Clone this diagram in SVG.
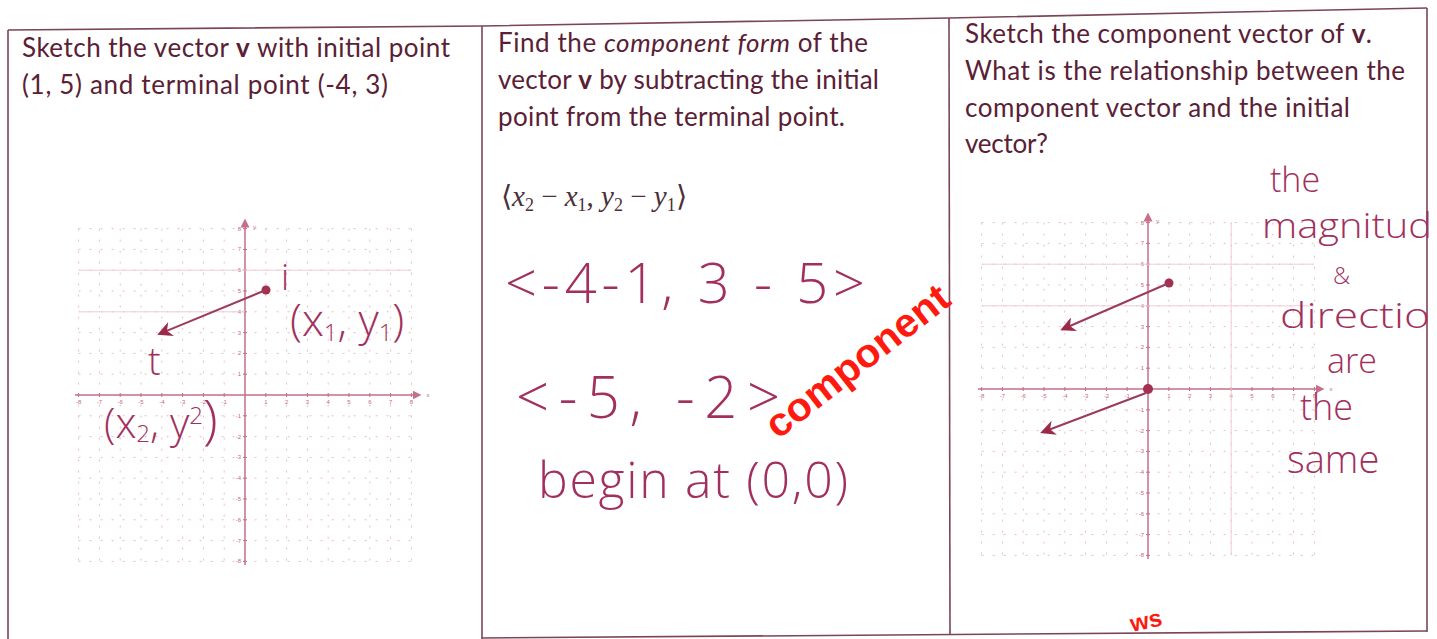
<svg xmlns="http://www.w3.org/2000/svg" xmlns:xlink="http://www.w3.org/1999/xlink" width="1437" height="639" viewBox="0 0 1437 639">
<style>
.frame{fill:none;stroke:#7a4656;stroke-width:1.6}
.prn{font-family:Lato,"Open Sans","Liberation Sans",sans-serif;font-size:26px;fill:#5a2035}
.frm{font-family:"Liberation Serif",serif;font-size:29px;fill:#4a3038}
.hand{font-family:"Open Sans","DejaVu Sans",sans-serif;font-weight:300;fill:#a2305e}
.red{font-family:"Liberation Sans",sans-serif;font-weight:bold;fill:#ff1a10}
.grid{fill:none;stroke:#e8bcc8;stroke-width:1;stroke-dasharray:2 9}
.gl{fill:none;stroke:#efccd6;stroke-width:1}
.axis{fill:none;stroke:#c66f86;stroke-width:1.5}
.tick{fill:none;stroke:#c66f86;stroke-width:1}
.lbl{font-family:"Liberation Sans",sans-serif;font-size:6px;fill:#c06a82}
.vec{fill:none;stroke:#9c3a5e;stroke-width:2}
.dot{fill:#a2304e}
</style>
<defs>
<marker id="ah" viewBox="0 0 10 10" refX="8" refY="5" markerWidth="15" markerHeight="15" orient="auto" markerUnits="userSpaceOnUse">
<path d="M10 5 L0 0 L3 5 L0 10 Z" fill="#9a2a48"/>
</marker>
<marker id="tip" viewBox="0 0 10 10" refX="5" refY="5" markerWidth="6" markerHeight="6" orient="auto"><path d="M0 0 L10 5 L0 10 Z" fill="#c66f86"/></marker>
<g id="grid">
<path class="grid" d="M-166.4 -166.4V166.4M-145.6 -166.4V166.4M-124.8 -166.4V166.4M-104 -166.4V166.4M-83.2 -166.4V166.4M-62.4 -166.4V166.4M-41.6 -166.4V166.4M-20.8 -166.4V166.4M20.8 -166.4V166.4M41.6 -166.4V166.4M62.4 -166.4V166.4M83.2 -166.4V166.4M104 -166.4V166.4M124.8 -166.4V166.4M145.6 -166.4V166.4M166.4 -166.4V166.4M-166.4 -166.4H166.4M-166.4 -145.6H166.4M-166.4 -124.8H166.4M-166.4 -104H166.4M-166.4 -83.2H166.4M-166.4 -62.4H166.4M-166.4 -41.6H166.4M-166.4 -20.8H166.4M-166.4 20.8H166.4M-166.4 41.6H166.4M-166.4 62.4H166.4M-166.4 83.2H166.4M-166.4 104H166.4M-166.4 124.8H166.4M-166.4 145.6H166.4M-166.4 166.4H166.4"/>
<path class="tick" d="M-166.4 -2V2M-145.6 -2V2M-124.8 -2V2M-104 -2V2M-83.2 -2V2M-62.4 -2V2M-41.6 -2V2M-20.8 -2V2M20.8 -2V2M41.6 -2V2M62.4 -2V2M83.2 -2V2M104 -2V2M124.8 -2V2M145.6 -2V2M166.4 -2V2M-2 -166.4H2M-2 -145.6H2M-2 -124.8H2M-2 -104H2M-2 -83.2H2M-2 -62.4H2M-2 -41.6H2M-2 -20.8H2M-2 20.8H2M-2 41.6H2M-2 62.4H2M-2 83.2H2M-2 104H2M-2 124.8H2M-2 145.6H2M-2 166.4H2"/>
<path class="axis" d="M-170 0H172" marker-end="url(#tip)"/>
<path class="axis" d="M0 170V-172" marker-end="url(#tip)"/>
<g class="lbl" text-anchor="middle">
<text x="-166.4" y="9">-8</text><text x="-145.6" y="9">-7</text><text x="-124.8" y="9">-6</text><text x="-104" y="9">-5</text><text x="-83.2" y="9">-4</text><text x="-62.4" y="9">-3</text><text x="-41.6" y="9">-2</text><text x="-20.8" y="9">-1</text><text x="20.8" y="9">1</text><text x="41.6" y="9">2</text><text x="62.4" y="9">3</text><text x="83.2" y="9">4</text><text x="104" y="9">5</text><text x="124.8" y="9">6</text><text x="145.6" y="9">7</text><text x="166.4" y="9">8</text><text x="183" y="2">x</text>
</g>
<g class="lbl" text-anchor="end">
<text x="-4" y="-164.4">8</text><text x="-4" y="-143.6">7</text><text x="-4" y="-122.8">6</text><text x="-4" y="-102">5</text><text x="-4" y="-81.2">4</text><text x="-4" y="-60.4">3</text><text x="-4" y="-39.6">2</text><text x="-4" y="-18.8">1</text><text x="-4" y="22.8">-1</text><text x="-4" y="43.6">-2</text><text x="-4" y="64.4">-3</text><text x="-4" y="85.2">-4</text><text x="-4" y="106">-5</text><text x="-4" y="126.8">-6</text><text x="-4" y="147.6">-7</text><text x="-4" y="168.4">-8</text><text x="11" y="-166">y</text>
</g>
</g>
</defs>

<g id="table">
<polyline class="frame" points="8,30 482,26 949,18 1427,8"/>
<line class="frame" x1="8" y1="30" x2="8" y2="639"/>
<line class="frame" x1="482" y1="26" x2="482" y2="639"/>
<line class="frame" x1="949" y1="18" x2="950" y2="634"/>
<line class="frame" x1="1427" y1="8" x2="1427" y2="632"/>
<line class="frame" x1="482" y1="638" x2="1427" y2="631" stroke-width="2.2"/>
</g>

<g id="cell1">
<text class="prn" x="22" y="57" textLength="428" lengthAdjust="spacing">Sketch the vector <tspan font-weight="bold">v</tspan> with initial point</text>
<text class="prn" x="22" y="94" textLength="366" lengthAdjust="spacing">(1, 5) and terminal point (-4, 3)</text>
<use xlink:href="#grid" x="245" y="395"/>
<path class="gl" d="M79 270.2H411M79 311.8H245"/>
<circle class="dot" cx="266" cy="290" r="4.5"/>
<line class="vec" x1="266" y1="290" x2="160" y2="333.6" marker-end="url(#ah)"/>
<text class="hand" x="281" y="290" font-size="36">i</text>
<text class="hand" x="290" y="336" font-size="44">(x<tspan font-size="24" dy="5">1</tspan><tspan dy="-5">, y</tspan><tspan font-size="24" dy="5">1</tspan><tspan dy="-5">)</tspan></text>
<text class="hand" x="148" y="375" font-size="38">t</text>
<text class="hand" x="104" y="438" font-size="42">(x<tspan font-size="24" dy="4">2</tspan><tspan dy="-4">, y</tspan><tspan font-size="24" dy="-14">2</tspan><tspan dy="14" font-size="54">)</tspan></text>
</g>

<g id="cell2">
<text class="prn" x="498" y="52" textLength="370" lengthAdjust="spacing">Find the <tspan font-style="italic">component form</tspan> of the</text>
<text class="prn" x="498" y="89" textLength="381" lengthAdjust="spacing">vector <tspan font-weight="bold">v</tspan> by subtracting the initial</text>
<text class="prn" x="498" y="126" textLength="347" lengthAdjust="spacing">point from the terminal point.</text>
<text class="frm" x="501" y="206">⟨<tspan font-style="italic">x</tspan><tspan font-size="18" dy="5">2</tspan><tspan dy="-5"> − </tspan><tspan font-style="italic">x</tspan><tspan font-size="18" dy="5">1</tspan><tspan dy="-5">, </tspan><tspan font-style="italic">y</tspan><tspan font-size="18" dy="5">2</tspan><tspan dy="-5"> − </tspan><tspan font-style="italic">y</tspan><tspan font-size="18" dy="5">1</tspan><tspan dy="-5">⟩</tspan></text>
<text class="hand" x="505" y="303" font-size="56" textLength="360" lengthAdjust="spacing">&lt;-4-1, 3 - 5&gt;</text>
<text class="hand" x="516" y="418" font-size="58" textLength="264" lengthAdjust="spacing">&lt;-5, -2&gt;</text>
<text class="hand" x="538" y="498" font-size="50" textLength="310" lengthAdjust="spacing">begin at (0,0)</text>
<text class="red" x="0" y="0" font-size="40" transform="translate(778,440) rotate(-38)" textLength="222" lengthAdjust="spacingAndGlyphs">component</text>
</g>

<g id="cell3">
<text class="prn" x="965" y="43" textLength="407" lengthAdjust="spacing">Sketch the component vector of <tspan font-weight="bold">v</tspan>.</text>
<text class="prn" x="965" y="80" textLength="440" lengthAdjust="spacing">What is the relationship between the</text>
<text class="prn" x="965" y="117" textLength="385" lengthAdjust="spacing">component vector and the initial</text>
<text class="prn" x="965" y="153" textLength="83" lengthAdjust="spacing">vector?</text>
<use xlink:href="#grid" x="1148" y="389"/>
<path class="gl" d="M983 264.2H1313M983 305.8H1310M1231.2 222.6V555.4"/>
<circle class="dot" cx="1169" cy="283" r="4.5"/>
<line class="vec" x1="1169" y1="283" x2="1063" y2="329" marker-end="url(#ah)"/>
<circle class="dot" cx="1148" cy="389" r="5"/>
<line class="vec" x1="1146" y1="393" x2="1043" y2="432" marker-end="url(#ah)"/>
<text class="hand" x="1270" y="192" font-size="34">the</text>
<text class="hand" x="1262" y="238" font-size="34" textLength="170" lengthAdjust="spacingAndGlyphs">magnitud</text>
<text class="hand" x="1333" y="284" font-size="24">&amp;</text>
<text class="hand" x="1280" y="328" font-size="34" textLength="150" lengthAdjust="spacingAndGlyphs">directio</text>
<text class="hand" x="1327" y="373" font-size="34">are</text>
<text class="hand" x="1300" y="420" font-size="36">the</text>
<text class="hand" x="1287" y="473" font-size="38">same</text>
<text class="red" x="1130" y="628" font-size="24" transform="rotate(-12 1150 620)">ws</text>
</g>
</svg>
